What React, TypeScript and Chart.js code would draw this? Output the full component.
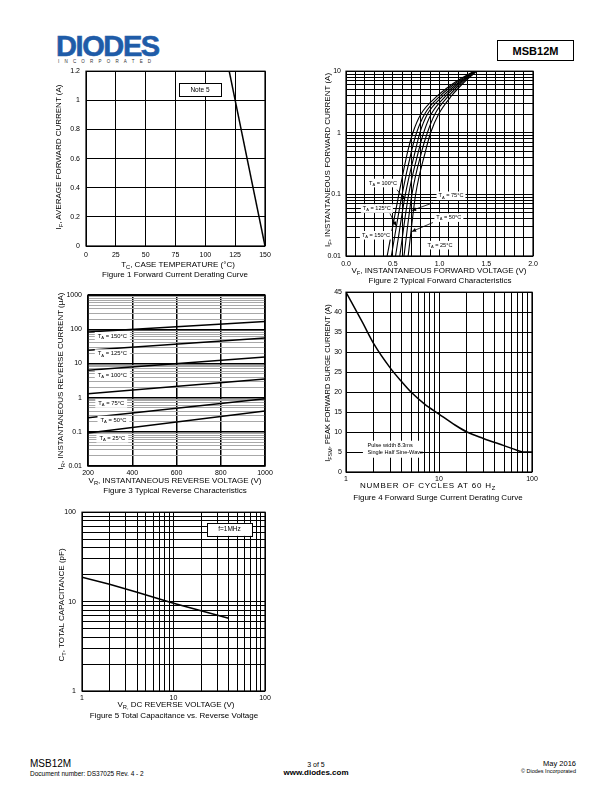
import React, { useEffect, useRef } from 'react';
import { Chart, registerables } from 'chart.js';

Chart.register(...registerables);

const FONT = '"Liberation Sans", Arial, Helvetica, sans-serif';

// ---------------- Figure 1: Forward current derating ----------------
const fig1CaseTemp = [120, 150];
const fig1AvgCurrent = [1.2, 0];
const fig1XTicks = [0, 25, 50, 75, 100, 125, 150];
const fig1YTicks = [0, 0.2, 0.4, 0.6, 0.8, 1, 1.2];

// ---------------- Figure 2: Typical forward characteristics ----------------
const fig2Current = [0.01, 0.1, 0.5, 1, 2, 4, 7, 10];
const fig2Vf150 = [0.44, 0.565, 0.66, 0.715, 0.8, 0.98, 1.19, 1.37];
const fig2Vf125 = [0.485, 0.6, 0.7, 0.755, 0.84, 1.01, 1.21, 1.375];
const fig2Vf100 = [0.53, 0.635, 0.74, 0.79, 0.87, 1.04, 1.23, 1.38];
const fig2Vf75 = [0.575, 0.67, 0.775, 0.83, 0.91, 1.07, 1.245, 1.385];
const fig2Vf50 = [0.62, 0.705, 0.81, 0.87, 0.95, 1.1, 1.26, 1.39];
const fig2Vf25 = [0.665, 0.745, 0.85, 0.905, 0.99, 1.13, 1.28, 1.4];
const fig2XTicks = [0, 0.1, 0.2, 0.3, 0.4, 0.5, 0.6, 0.7, 0.8, 0.9, 1.0, 1.1, 1.2, 1.3, 1.4, 1.5, 1.6, 1.7, 1.8, 1.9, 2.0];
const fig2XLabels = [0, 0.5, 1, 1.5, 2];
const fig2YLabels = [0.01, 0.1, 1, 10];
const fig2NoteTemps = ['100', '75', '125', '50', '150', '25'];
const fig2NoteV = [0.396, 1.123, 0.33, 1.1, 0.32, 1.005];
const fig2NoteI = [0.153, 0.095, 0.059, 0.042, 0.0217, 0.015];
const fig2Arrows = [
  [0.545, 0.119, 0.631, 0.082],
  [0.93, 0.073, 0.706, 0.055],
  [0.47, 0.049, 0.535, 0.031],
  [0.93, 0.035, 0.706, 0.025],
];

// ---------------- Figure 3: Typical reverse characteristics ----------------
const fig3Voltage = [200, 1000];
const fig3Ir150 = [84, 170];
const fig3Ir125 = [24.3, 56];
const fig3Ir100 = [6.4, 15.6];
const fig3Ir75 = [1.3, 3.5];
const fig3Ir50 = [0.26, 0.93];
const fig3Ir25 = [0.092, 0.41];
const fig3XTicks = [200, 400, 600, 800, 1000];
const fig3YLabels = [0.01, 0.1, 1, 10, 100, 1000];
const fig3NoteTemps = ['150', '125', '100', '75', '50', '25'];
const fig3NoteV = [310, 310, 310, 305, 315, 310];
const fig3NoteI = [62, 19.4, 4.6, 0.68, 0.22, 0.065];

// ---------------- Figure 4: Forward surge current derating ----------------
const fig4Cycles = [1, 1.5, 2, 3, 4, 5, 7, 10, 15, 20, 30, 50, 70, 80, 100];
const fig4Surge = [45, 37.5, 32, 26, 22.5, 20, 17, 14.5, 11.7, 10, 8.4, 6.6, 5.4, 5, 5];
const fig4YTicks = [0, 5, 10, 15, 20, 25, 30, 35, 40, 45];
const fig4XLabels = [1, 10, 100];

// ---------------- Figure 5: Total capacitance ----------------
const fig5Voltage = [1, 2, 4, 10, 20, 40];
const fig5Capacitance = [18.7, 15.6, 12.7, 9.6, 7.9, 6.5];
const fig5Labels = [1, 10, 100];

function logTicks(lo: number, hi: number): number[] {
  const out: number[] = [];
  for (let e = lo; e < hi; e++) {
    for (let d = 1; d < 10; d++) out.push(Number((d * Math.pow(10, e)).toPrecision(3)));
  }
  out.push(Number(Math.pow(10, hi).toPrecision(3)));
  return out;
}
const isDecade = (v: number) => Math.abs(Math.log10(v) - Math.round(Math.log10(v))) < 1e-6;
const inList = (list: number[], v: number) => list.some((l) => Math.abs(l - v) < 1e-9);

type Part = [string, boolean];
function setFont(ctx: CanvasRenderingContext2D, size: number) {
  ctx.font = `${size}px ${FONT}`;
}
function measureParts(ctx: CanvasRenderingContext2D, parts: Part[], size: number) {
  let w = 0;
  for (const [t, sub] of parts) {
    setFont(ctx, sub ? size * 0.72 : size);
    w += ctx.measureText(t).width;
  }
  return w;
}
function fillParts(ctx: CanvasRenderingContext2D, parts: Part[], x0: number, yMid: number, size: number) {
  ctx.textAlign = 'left';
  ctx.textBaseline = 'middle';
  ctx.fillStyle = '#000';
  let x = x0;
  for (const [t, sub] of parts) {
    setFont(ctx, sub ? size * 0.72 : size);
    ctx.fillText(t, x, sub ? yMid + size * 0.3 : yMid);
    x += ctx.measureText(t).width;
  }
}
function noteBox(chart: any, xv: number, yv: number, parts: Part[], size: number, opt: { w?: number; h?: number; stroke?: boolean; padX?: number; padY?: number }) {
  const ctx = chart.ctx as CanvasRenderingContext2D;
  const cx = chart.scales.x.getPixelForValue(xv);
  const cy = chart.scales.y.getPixelForValue(yv);
  ctx.save();
  const tw = measureParts(ctx, parts, size);
  const w = opt.w ?? tw + 2 * (opt.padX ?? 2);
  const h = opt.h ?? size + 2 * (opt.padY ?? 1.5);
  ctx.fillStyle = '#fff';
  ctx.fillRect(cx - w / 2, cy - h / 2, w, h);
  if (opt.stroke) {
    ctx.strokeStyle = '#000';
    ctx.lineWidth = 1;
    ctx.strokeRect(Math.round(cx - w / 2) + 0.5, Math.round(cy - h / 2) + 0.5, Math.round(w), Math.round(h));
  }
  fillParts(ctx, parts, cx - tw / 2, cy, size);
  ctx.restore();
}
function arrow(chart: any, x1: number, y1: number, x2: number, y2: number) {
  const ctx = chart.ctx as CanvasRenderingContext2D;
  const sx = chart.scales.x, sy = chart.scales.y;
  const ax = sx.getPixelForValue(x1), ay = sy.getPixelForValue(y1);
  const bx = sx.getPixelForValue(x2), by = sy.getPixelForValue(y2);
  ctx.save();
  ctx.strokeStyle = '#000';
  ctx.fillStyle = '#000';
  ctx.lineWidth = 0.8;
  ctx.beginPath();
  ctx.moveTo(ax, ay);
  ctx.lineTo(bx, by);
  ctx.stroke();
  const ang = Math.atan2(by - ay, bx - ax);
  const L = 4, W = 2;
  ctx.beginPath();
  ctx.moveTo(bx, by);
  ctx.lineTo(bx - L * Math.cos(ang) + W * Math.sin(ang), by - L * Math.sin(ang) - W * Math.cos(ang));
  ctx.lineTo(bx - L * Math.cos(ang) - W * Math.sin(ang), by - L * Math.sin(ang) + W * Math.cos(ang));
  ctx.closePath();
  ctx.fill();
  ctx.restore();
}
function frame(chart: any, lw: number) {
  const ctx = chart.ctx as CanvasRenderingContext2D;
  const { left, top, right, bottom } = chart.chartArea;
  ctx.save();
  ctx.strokeStyle = '#000';
  ctx.lineWidth = lw;
  ctx.strokeRect(left, top, right - left, bottom - top);
  ctx.restore();
}

type AxisSpec = {
  type: 'linear' | 'logarithmic';
  min: number;
  max: number;
  ticks: number[];
  label: (v: number) => string;
  pad: number;
  gridColor?: (v: number) => string;
  gridWidth?: (v: number) => number;
};
type PlotSpec = {
  box: { L: number; T: number; R: number; B: number };
  x: AxisSpec;
  y: AxisSpec;
  datasets: any[];
  overlay?: (chart: any) => void;
  frameWidth?: number;
};

const YW = 36, XH = 16, PT = 7, PR = 14;

function Plot({ spec }: { spec: PlotSpec }) {
  const ref = useRef<HTMLCanvasElement>(null);
  const w = YW + spec.box.R - spec.box.L + PR;
  const h = PT + spec.box.B - spec.box.T + XH;
  useEffect(() => {
    const axis = (a: AxisSpec, isX: boolean) => ({
      type: a.type,
      min: a.min,
      max: a.max,
      position: isX ? 'bottom' : 'left',
      afterBuildTicks: (s: any) => {
        s.ticks = a.ticks.map((v) => ({ value: v }));
      },
      afterFit: (s: any) => {
        if (isX) s.height = XH;
        else s.width = YW;
      },
      grid: {
        drawTicks: false,
        color: (c: any) => (a.gridColor && c.tick ? a.gridColor(c.tick.value) : '#000'),
        lineWidth: (c: any) => (a.gridWidth && c.tick ? a.gridWidth(c.tick.value) : 1),
      },
      border: { display: false },
      ticks: {
        autoSkip: false,
        maxRotation: 0,
        minRotation: 0,
        padding: a.pad,
        color: '#000',
        font: { size: 7, family: FONT },
        callback: (v: any) => a.label(Number(v)),
      },
    });
    const chart = new Chart(ref.current as HTMLCanvasElement, {
      type: 'scatter',
      data: { datasets: spec.datasets },
      options: {
        animation: false,
        responsive: false,
        maintainAspectRatio: false,
        devicePixelRatio: 1,
        layout: { padding: { left: 0, top: PT, right: PR, bottom: 0 } },
        events: [],
        scales: { x: axis(spec.x, true) as any, y: axis(spec.y, false) as any },
        plugins: { legend: { display: false }, tooltip: { enabled: false } },
      },
      plugins: [
        {
          id: 'overlay',
          afterDraw(c: any) {
            if (spec.overlay) spec.overlay(c);
            frame(c, spec.frameWidth ?? 1.2);
          },
        },
      ],
    } as any);
    return () => chart.destroy();
  }, []);
  return (
    <canvas
      ref={ref}
      width={w}
      height={h}
      style={{ position: 'absolute', left: spec.box.L - YW, top: spec.box.T - PT, width: w, height: h }}
    />
  );
}

const line = (xs: number[], ys: number[], width: number, smooth = false) => ({
  data: xs.map((x, i) => ({ x, y: ys[i] })),
  showLine: true,
  borderColor: '#000',
  backgroundColor: '#000',
  borderWidth: width,
  pointRadius: 0,
  fill: false,
  cubicInterpolationMode: smooth ? 'monotone' : 'default',
});

const TA = (t: string): Part[] => [['T', false], ['A', true], [` = ${t}°C`, false]];

const fig1Spec: PlotSpec = {
  box: { L: 86, T: 68, R: 265, B: 246 },
  x: { type: 'linear', min: 0, max: 150, ticks: fig1XTicks, label: (v) => String(v), pad: 5 },
  y: { type: 'linear', min: 0, max: 1.2, ticks: fig1YTicks, label: (v) => String(v), pad: 6 },
  datasets: [line(fig1CaseTemp, fig1AvgCurrent, 1.5)],
  overlay: (c) => noteBox(c, 95.5, 1.072, [['Note 5', false]], 6.5, { w: 42, h: 13, stroke: true }),
};

const fig2Spec: PlotSpec = {
  box: { L: 346, T: 69, R: 533, B: 256 },
  x: {
    type: 'linear', min: 0, max: 2, ticks: fig2XTicks, pad: 4,
    label: (v) => (inList(fig2XLabels, v) ? v.toFixed(1) : ''),
  },
  y: {
    type: 'logarithmic', min: 0.01, max: 10, ticks: logTicks(-2, 1), pad: 5,
    label: (v) => (inList(fig2YLabels, v) ? String(v) : ''),
  },
  datasets: [fig2Vf150, fig2Vf125, fig2Vf100, fig2Vf75, fig2Vf50, fig2Vf25].map((vs) => line(vs, fig2Current, 1.1, true)),
  overlay: (c) => {
    fig2NoteTemps.forEach((t, i) => noteBox(c, fig2NoteV[i], fig2NoteI[i], TA(t), 5.6, { padX: 2, padY: 1.5 }));
    fig2Arrows.forEach((a) => arrow(c, a[0], a[1], a[2], a[3]));
  },
};

const fig3Spec: PlotSpec = {
  box: { L: 88, T: 292, R: 265, B: 466 },
  x: {
    type: 'linear', min: 200, max: 1000, ticks: fig3XTicks, pad: 3, label: (v) => String(v),
    gridColor: () => '#000', gridWidth: () => 1.5,
  },
  y: {
    type: 'logarithmic', min: 0.01, max: 1000, ticks: logTicks(-2, 3), pad: 6,
    label: (v) => (inList(fig3YLabels, v) ? String(v) : ''),
    gridColor: (v) => (isDecade(v) ? '#000' : '#a8a8a8'),
    gridWidth: (v) => (isDecade(v) ? 1.5 : 1),
  },
  datasets: [fig3Ir150, fig3Ir125, fig3Ir100, fig3Ir75, fig3Ir50, fig3Ir25].map((ys) => line(fig3Voltage, ys, 1.5)),
  overlay: (c) => {
    fig3NoteTemps.forEach((t, i) => noteBox(c, fig3NoteV[i], fig3NoteI[i], TA(t), 5.8, { padX: 3, padY: 1.5 }));
  },
  frameWidth: 1.5,
};

const fig4Spec: PlotSpec = {
  box: { L: 346, T: 291, R: 532, B: 472 },
  x: {
    type: 'logarithmic', min: 1, max: 100, ticks: logTicks(0, 2), pad: 3,
    label: (v) => (inList(fig4XLabels, v) ? String(v) : ''),
  },
  y: { type: 'linear', min: 0, max: 45, ticks: fig4YTicks, pad: 4, label: (v) => String(v) },
  datasets: [line(fig4Cycles, fig4Surge, 1.5, true)],
  overlay: (c) => {
    const ctx = c.ctx as CanvasRenderingContext2D;
    const cx = c.scales.x.getPixelForValue(3.08);
    const cy = c.scales.y.getPixelForValue(5.7);
    ctx.save();
    ctx.fillStyle = '#fff';
    ctx.fillRect(cx - 28.5, cy - 8.5, 57, 17);
    ctx.fillStyle = '#000';
    ctx.textAlign = 'left';
    ctx.textBaseline = 'middle';
    setFont(ctx, 5.6);
    ctx.fillText('Pulse width 8.3ms', cx - 24, cy - 3.5);
    ctx.fillText('Single Half Sine-Wave', cx - 24, cy + 3.5);
    ctx.restore();
  },
};

const fig5Spec: PlotSpec = {
  box: { L: 82, T: 509, R: 265, B: 691 },
  x: {
    type: 'logarithmic', min: 1, max: 100, ticks: logTicks(0, 2), pad: 3,
    label: (v) => (inList(fig5Labels, v) ? String(v) : ''),
  },
  y: {
    type: 'logarithmic', min: 1, max: 100, ticks: logTicks(0, 2), pad: 6,
    label: (v) => (inList(fig5Labels, v) ? String(v) : ''),
  },
  datasets: [line(fig5Voltage, fig5Capacitance, 1.5)],
  overlay: (c) => noteBox(c, 40.9, 64.3, [['f=1MHz', false]], 6.5, { w: 45, h: 13, stroke: true }),
};

const Sub = ({ c }: { c: string }) => <span style={{ fontSize: '0.72em', verticalAlign: '-0.3em' }}>{c}</span>;

function Txt({ x, y, size = 8, rot = false, bold = false, align = 'center', spacing = 0, children, color = '#000' }: any) {
  const style: any = {
    position: 'absolute',
    top: y,
    fontSize: size,
    fontWeight: bold ? 'bold' : 'normal',
    whiteSpace: 'nowrap',
    lineHeight: 1,
    letterSpacing: spacing,
    color,
  };
  if (align === 'center') {
    style.left = x;
    style.transform = 'translate(-50%,-50%)' + (rot ? ' rotate(-90deg)' : '');
  } else if (align === 'left') {
    style.left = x;
    style.transform = 'translateY(-50%)';
  } else {
    style.right = 612 - x;
    style.transform = 'translateY(-50%)';
  }
  return <div style={style}>{children}</div>;
}

export default function App() {
  return (
    <div style={{ position: 'absolute', left: 0, top: 0, width: 612, height: 792, background: '#fff', fontFamily: FONT, color: '#000', overflow: 'hidden' }}>
      {/* Header */}
      <div style={{ position: 'absolute', left: 56, top: 32, fontSize: 29, fontWeight: 'bold', color: '#1f5ca8', letterSpacing: -1.4, lineHeight: 1, transform: 'scaleY(1.03)', WebkitTextStroke: '0.6px #1f5ca8' }}>DIODES</div>
      <div style={{ position: 'absolute', left: 58, top: 59.5, fontSize: 4.5, letterSpacing: 5.2, lineHeight: 1, color: '#333' }}>INCORPORATED</div>
      <div style={{ position: 'absolute', left: 497, top: 40, width: 75, height: 19, border: '1.5px solid #000', display: 'flex', alignItems: 'center', justifyContent: 'center', fontSize: 11, fontWeight: 'bold' }}>MSB12M</div>

      <Plot spec={fig1Spec} />
      <Plot spec={fig2Spec} />
      <Plot spec={fig3Spec} />
      <Plot spec={fig4Spec} />
      <Plot spec={fig5Spec} />

      {/* Figure 1 texts */}
      <Txt x={60} y={157} rot>I<Sub c="F" />, AVERAGE FORWARD CURRENT (A)</Txt>
      <Txt x={178} y={266}>T<Sub c="C" />, CASE TEMPERATURE (°C)</Txt>
      <Txt x={175} y={275}>Figure 1 Forward Current Derating Curve</Txt>

      {/* Figure 2 texts */}
      <Txt x={329} y={160} rot>I<Sub c="F" />, INSTANTANEOUS FORWARD CURRENT (A)</Txt>
      <Txt x={439} y={272}>V<Sub c="F" />, INSTANTANEOUS FORWARD VOLTAGE (V)</Txt>
      <Txt x={440} y={281}>Figure 2 Typical Forward Characteristics</Txt>

      {/* Figure 3 texts */}
      <Txt x={62} y={381} rot>I<Sub c="R" />, INSTANTANEOUS REVERSE CURRENT (µA)</Txt>
      <Txt x={175} y={482}>V<Sub c="R" />, INSTANTANEOUS REVERSE VOLTAGE (V)</Txt>
      <Txt x={175} y={491}>Figure 3 Typical Reverse Characteristics</Txt>

      {/* Figure 4 texts */}
      <Txt x={329} y={383} size={7.5} rot>I<Sub c="FSM" />, PEAK FORWARD SURGE CURRENT (A)</Txt>
      <Txt x={428} y={487} spacing={0.8}>NUMBER OF CYCLES AT 60 H<Sub c="Z" /></Txt>
      <Txt x={438} y={498}>Figure 4 Forward Surge Current Derating Curve</Txt>

      {/* Figure 5 texts */}
      <Txt x={63} y={605} rot>C<Sub c="T" />, TOTAL CAPACITANCE (pF)</Txt>
      <Txt x={176} y={706}>V<Sub c="R," /> DC REVERSE VOLTAGE (V)</Txt>
      <Txt x={174} y={716}>Figure 5 Total Capacitance vs. Reverse Voltage</Txt>

      {/* Footer */}
      <Txt x={30} y={764} size={10} align="left">MSB12M</Txt>
      <Txt x={30} y={774} size={6.5} align="left">Document number: DS37025 Rev. 4 - 2</Txt>
      <Txt x={316} y={764} size={7}>3 of 5</Txt>
      <Txt x={316} y={773} size={8} bold>www.diodes.com</Txt>
      <Txt x={576} y={764} size={7.5} align="right">May 2016</Txt>
      <Txt x={576} y={772} size={5.5} align="right">© Diodes Incorporated</Txt>
    </div>
  );
}
